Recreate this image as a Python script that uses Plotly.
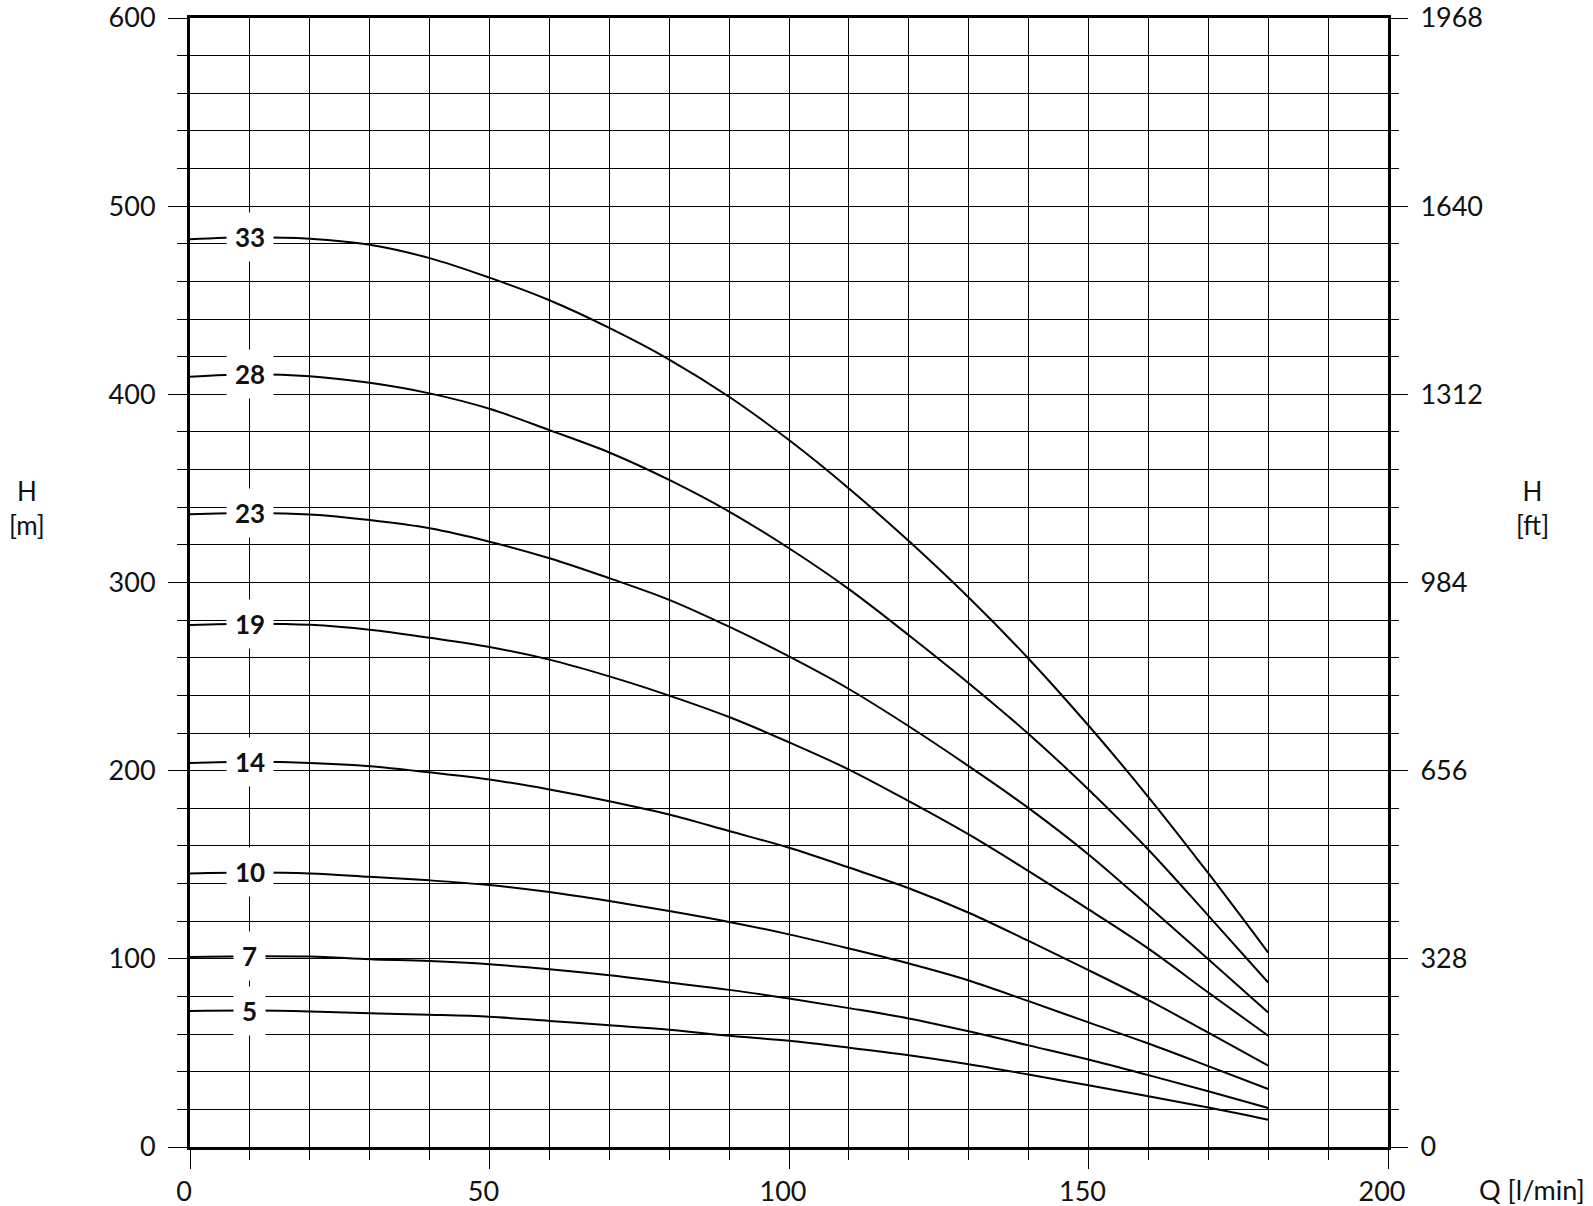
import plotly.graph_objects as go

# Flow rate Q [l/min]
q = [0, 10, 20, 30, 40, 50, 60, 70, 80, 90, 100, 110, 120, 130, 140, 150, 160, 170, 180]

# Head H [m] for each stage count
h33 = [482.4, 483.5, 482.7, 479.5, 472.4, 462.0, 450.0, 435.3, 418.5, 398.7, 375.7, 350.0, 322.0, 292.0, 259.5, 224.0, 186.0, 145.5, 103.3]
h28 = [409.3, 410.7, 409.6, 406.1, 400.5, 392.3, 381.0, 369.1, 354.5, 337.7, 318.2, 296.5, 272.0, 246.5, 219.5, 190.0, 158.0, 123.0, 87.4]
h23 = [336.3, 337.0, 336.2, 333.2, 328.8, 321.7, 312.9, 302.3, 290.8, 276.5, 260.7, 243.4, 223.6, 202.4, 180.1, 155.5, 128.0, 99.8, 71.5]
h19 = [277.4, 278.1, 277.5, 274.9, 270.6, 265.7, 259.0, 250.1, 239.9, 228.5, 215.1, 200.6, 183.8, 166.1, 146.6, 126.3, 105.4, 82.1, 59.1]
h14 = [204.1, 204.7, 204.1, 202.4, 199.1, 195.3, 190.0, 183.8, 176.7, 167.9, 159.0, 148.5, 137.5, 124.5, 109.5, 94.0, 78.0, 60.8, 43.2]
h10 = [145.4, 145.9, 145.4, 143.6, 141.7, 139.2, 135.5, 130.7, 125.4, 119.6, 113.0, 105.5, 97.5, 88.5, 77.5, 66.2, 55.0, 43.0, 30.8]
h7 = [101.0, 101.4, 101.2, 99.8, 98.8, 97.1, 94.5, 91.3, 87.4, 83.5, 78.9, 73.8, 68.3, 61.5, 54.0, 46.5, 38.2, 29.6, 20.7]
h5 = [72.3, 72.5, 72.0, 71.1, 70.3, 69.2, 67.0, 64.7, 62.3, 59.1, 56.4, 52.8, 48.8, 44.0, 38.5, 32.8, 27.0, 21.0, 14.5]

stage_labels = ["33", "28", "23", "19", "14", "10", "7", "5"]
curves = [h33, h28, h23, h19, h14, h10, h7, h5]
label_q = 10

ft_ticks = [0, 328, 656, 984, 1312, 1640, 1968]

FONT = "Lato, 'Open Sans', sans-serif"
TXT = "#111"

fig = go.Figure()
for name, h in zip(stage_labels, curves):
    fig.add_trace(go.Scatter(x=q, y=h, mode="lines", name=name,
                             line=dict(color="black", width=2, shape="spline", smoothing=1.0),
                             showlegend=False, hoverinfo="skip"))
    fig.add_annotation(x=label_q, y=h[q.index(label_q)], text="<b>" + name + "</b>",
                       showarrow=False, bgcolor="white", borderpad=8,
                       font=dict(family=FONT, size=26, color=TXT))

# invisible trace for the right axis (ft)
fig.add_trace(go.Scatter(x=[0], y=[0], yaxis="y2", mode="markers",
                         marker=dict(opacity=0), showlegend=False, hoverinfo="skip"))

grid = dict(showgrid=True, gridcolor="black", gridwidth=1.3)

fig.update_layout(
    width=1593, height=1206,
    margin=dict(l=190, r=205, t=18, b=59),
    paper_bgcolor="white", plot_bgcolor="white",
    font=dict(family=FONT, size=27, color=TXT),
    xaxis=dict(range=[0, 200], dtick=50, tick0=0, ticks="outside", ticklen=19,
               tickwidth=1.3, tickcolor="black", showline=True, linecolor="black",
               linewidth=3, mirror=True, zeroline=False, ticklabelshift=-6,
               ticklabelstandoff=0, automargin=False, ticklabeloverflow="allow",
               minor=dict(dtick=10, tick0=0, ticks="outside", ticklen=10, tickwidth=1.3,
                          tickcolor="black", showgrid=True, gridcolor="black", gridwidth=1.3),
               **grid),
    yaxis=dict(range=[0, 600], dtick=100, tick0=0, ticks="outside", ticklen=19,
               tickwidth=1.3, tickcolor="black", showline=True, linecolor="black",
               linewidth=3, mirror=True, zeroline=False, ticklabelstandoff=7,
               automargin=False, ticklabeloverflow="allow",
               minor=dict(dtick=20, tick0=0, ticks="outside", ticklen=10, tickwidth=1.3,
                          tickcolor="black", showgrid=True, gridcolor="black", gridwidth=1.3),
               **grid),
    yaxis2=dict(range=[0, 1968], overlaying="y", side="right", tickvals=ft_ticks,
                ticks="outside", ticklen=19, tickwidth=1.3, tickcolor="black",
                showgrid=False, zeroline=False, showline=False, ticklabelstandoff=7,
                automargin=False, ticklabeloverflow="allow",
                minor=dict(dtick=65.6, tick0=0, ticks="outside", ticklen=10,
                           tickwidth=1.3, tickcolor="black", showgrid=False)),
)

fig.add_annotation(xref="paper", yref="paper", x=-0.136, y=0.566, text="H<br>[m]",
                   xanchor="center", yanchor="middle",
                   showarrow=False, font=dict(family=FONT, size=26, color=TXT), align="center")
fig.add_annotation(xref="paper", yref="paper", x=1.121, y=0.566, text="H<br>[ft]",
                   xanchor="center", yanchor="middle",
                   showarrow=False, font=dict(family=FONT, size=26, color=TXT), align="center")
fig.add_annotation(xref="paper", yref="paper", x=1.120, y=-0.038, text="Q [l/min]",
                   xanchor="center", yanchor="middle",
                   showarrow=False, font=dict(family=FONT, size=27, color=TXT))

fig.write_html("out.html", config={"displayModeBar": False},
               post_script="document.body.style.margin='0px';document.body.style.overflow='hidden';")
